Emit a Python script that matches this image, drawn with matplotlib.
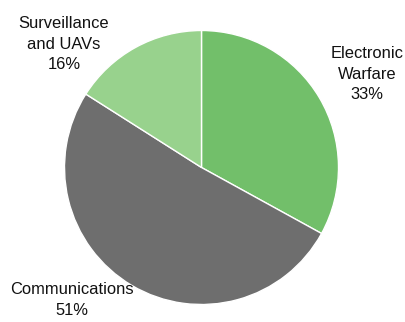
import matplotlib.pyplot as plt

plt.rcParams['font.family'] = ['Liberation Sans', 'DejaVu Sans']

segments = ['Electronic\nWarfare', 'Communications', 'Surveillance\nand UAVs']
shares = [33, 51, 16]
colors = ['#72bf6a', '#6e6e6e', '#98d28d']
# label anchors in pie units (radius = 1)
label_xy = [(1.208, 0.682), (-0.945, -0.967), (-1.004, 0.901)]

W, H = 406, 322
cx, cy, r = 201.5, 167.5, 137

fig = plt.figure(figsize=(W / 100, H / 100), dpi=100)
ax = fig.add_axes([(cx - r) / W, (H - cy - r) / H, 2 * r / W, 2 * r / H])

ax.pie(shares, colors=colors, startangle=90, counterclock=False, radius=1,
       wedgeprops=dict(edgecolor='white', linewidth=1))
ax.set_xlim(-1, 1)
ax.set_ylim(-1, 1)
ax.set_aspect('equal')
ax.axis('off')

for name, val, (x, y) in zip(segments, shares, label_xy):
    ax.text(x, y, '%s\n%d%%' % (name, val), ha='center', va='center',
            fontsize=11.9, color='#111111', linespacing=1.45, clip_on=False)

plt.savefig('out.png', dpi=100)
